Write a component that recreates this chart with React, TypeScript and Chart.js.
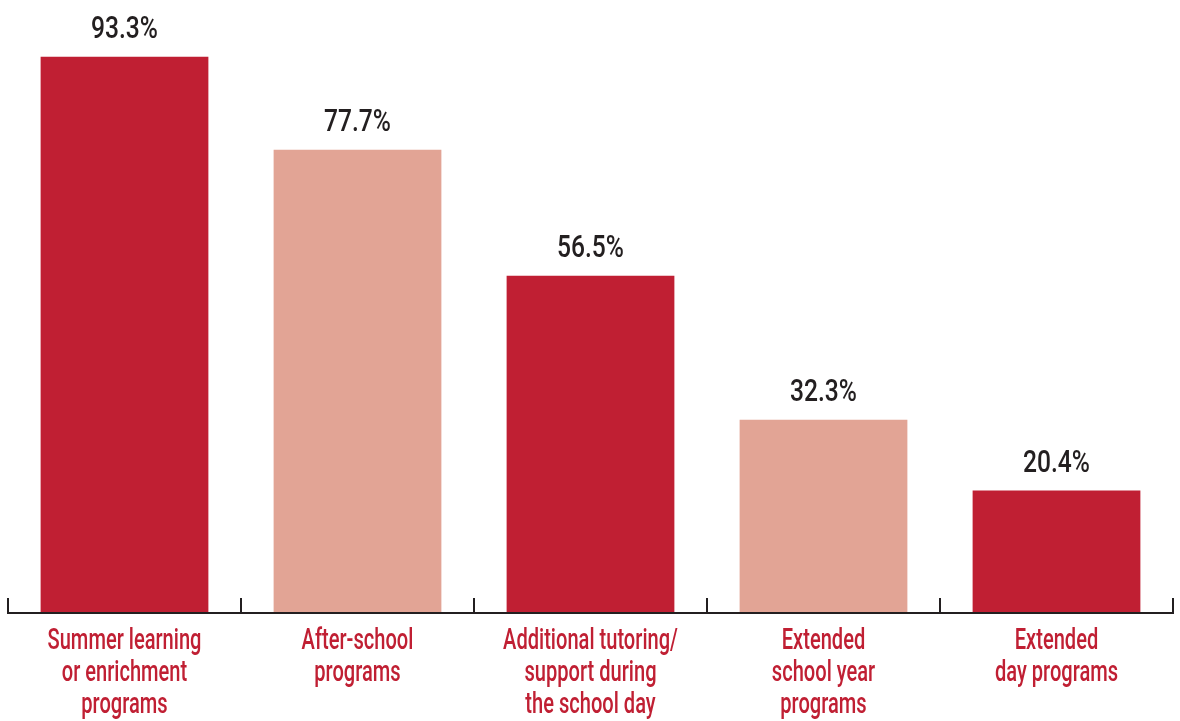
import React, { useEffect, useRef } from "react";
import { Chart, registerables } from "chart.js";

Chart.register(...registerables);

const categories: string[][] = [
  ["Summer learning", "or enrichment", "programs"],
  ["After-school", "programs"],
  ["Additional tutoring/", "support during", "the school day"],
  ["Extended", "school year", "programs"],
  ["Extended", "day programs"],
];
const values: number[] = [93.3, 77.7, 56.5, 32.3, 20.4];
const barColors: string[] = ["#C01F33", "#E2A495", "#C01F33", "#E2A495", "#C01F33"];

const INK = "#231F20";
const RED = "#C01F33";
const FONT = "Roboto, 'Liberation Sans', 'DejaVu Sans', sans-serif";

function drawCondensed(ctx: any, text: string, x: number, y: number, sx: number) {
  ctx.save();
  ctx.translate(x, y);
  ctx.scale(sx, 1);
  ctx.fillText(text, 0, 0);
  ctx.restore();
}

const valueLabels = {
  id: "valueLabels",
  afterDatasetsDraw(chart: any) {
    const ctx = chart.ctx;
    const meta = chart.getDatasetMeta(0);
    ctx.save();
    ctx.font = `500 32px ${FONT}`;
    ctx.fillStyle = INK;
    ctx.textAlign = "center";
    ctx.textBaseline = "alphabetic";
    meta.data.forEach((bar: any, i: number) => {
      drawCondensed(ctx, values[i].toFixed(1) + "%", bar.x, bar.y - 19, 0.77);
    });
    ctx.restore();
  },
};

const axisAndLabels = {
  id: "axisAndLabels",
  afterDraw(chart: any) {
    const { ctx, chartArea } = chart;
    const xScale = chart.scales.x;
    const n = categories.length;
    const w = (chartArea.right - chartArea.left) / n;
    const base = chartArea.bottom;
    ctx.save();
    ctx.strokeStyle = INK;
    ctx.lineWidth = 2;
    ctx.beginPath();
    ctx.moveTo(chartArea.left - 1, base + 1);
    ctx.lineTo(chartArea.right + 1, base + 1);
    ctx.stroke();
    for (let i = 0; i <= n; i++) {
      const x = Math.round(chartArea.left + i * w);
      ctx.beginPath();
      ctx.moveTo(x, base - 14);
      ctx.lineTo(x, base + 1);
      ctx.stroke();
    }
    ctx.font = `500 30px ${FONT}`;
    ctx.fillStyle = RED;
    ctx.textAlign = "center";
    ctx.textBaseline = "alphabetic";
    categories.forEach((lines, i) => {
      const cx = xScale.getPixelForValue(i);
      lines.forEach((line, j) => {
        drawCondensed(ctx, line, cx, base + 37 + j * 32, 0.67);
      });
    });
    ctx.restore();
  },
};

export default function App() {
  const ref = useRef<HTMLCanvasElement | null>(null);
  useEffect(() => {
    if (!ref.current) return;
    const chart = new Chart(ref.current, {
      type: "bar",
      data: {
        labels: categories.map((c) => c.join(" ")),
        datasets: [
          {
            data: values,
            backgroundColor: barColors,
            borderWidth: 0,
            categoryPercentage: 1,
            barPercentage: 0.72,
          },
        ],
      },
      options: {
        animation: false,
        responsive: true,
        maintainAspectRatio: false,
        layout: { padding: { left: 8, right: 7, top: 17, bottom: 109 } },
        plugins: {
          legend: { display: false },
          tooltip: { enabled: false },
        },
        scales: {
          x: { display: false, offset: true },
          y: { display: false, min: 0, max: 100 },
        },
      },
      plugins: [valueLabels, axisAndLabels],
    });
    return () => chart.destroy();
  }, []);
  return (
    <div style={{ position: "absolute", left: 0, top: 0, width: 1180, height: 721, background: "#fff" }}>
      <canvas ref={ref} />
    </div>
  );
}
